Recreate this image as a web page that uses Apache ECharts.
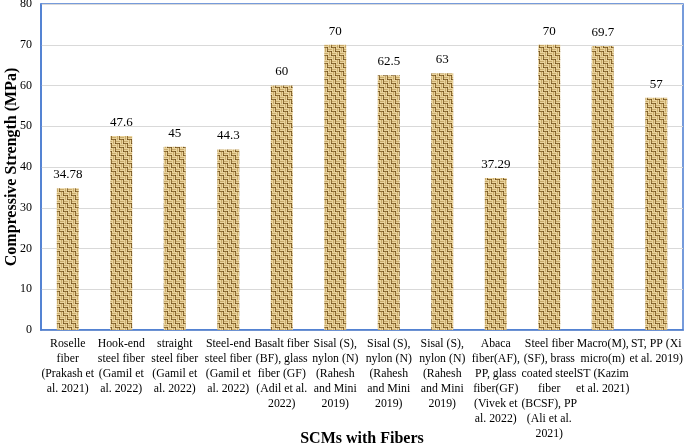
<!DOCTYPE html>
<html><head><meta charset="utf-8">
<script src="https://cdn.jsdelivr.net/npm/echarts@6/dist/echarts.min.js"></script>
<style>html,body{margin:0;padding:0;background:#fff}#c{width:685px;height:447px}</style>
</head><body><div id="c"></div>
<script>
const categories = [
  "Roselle\nfiber\n(Prakash et\nal. 2021)",
  "Hook-end\nsteel fiber\n(Gamil et\nal. 2022)",
  "straight\nsteel fiber\n(Gamil et\nal. 2022)",
  "Steel-end\nsteel fiber\n(Gamil et\nal. 2022)",
  "Basalt fiber\n(BF), glass\nfiber (GF)\n(Adil et al.\n2022)",
  "Sisal (S),\nnylon (N)\n(Rahesh\nand Mini\n2019)",
  "Sisal (S),\nnylon (N)\n(Rahesh\nand Mini\n2019)",
  "Sisal (S),\nnylon (N)\n(Rahesh\nand Mini\n2019)",
  "Abaca\nfiber(AF),\nPP, glass\nfiber(GF)\n(Vivek et\nal. 2022)",
  "Steel fiber\n(SF), brass\ncoated steel\nfiber\n(BCSF), PP\n(Ali et al.\n2021)",
  "Macro(M),\nmicro(m)\nST (Kazim\net al. 2021)",
  "ST, PP (Xi\net al. 2019)"
];
const strengths = [34.78, 47.6, 45, 44.3, 60, 70, 62.5, 63, 37.29, 70, 69.7, 57];
const yTicks = [0, 10, 20, 30, 40, 50, 60, 70, 80];

function makePattern(){
  const c = document.createElement('canvas');
  c.width = 8; c.height = 8;
  const g = c.getContext('2d');
  const light = '#ead39c', mid = '#c9ab6c', dark = '#8f6d33', deep = '#6e5020';
  function hcell(x0, y0){
    g.fillStyle = light; g.fillRect(x0, y0, 4, 1);
    g.fillStyle = mid;   g.fillRect(x0, y0+1, 4, 1);
    g.fillStyle = light; g.fillRect(x0, y0+2, 4, 1);
    g.fillStyle = dark;  g.fillRect(x0, y0+3, 4, 1);
    g.fillStyle = deep;  g.fillRect(x0+3, y0+3, 1, 1);
  }
  function vcell(x0, y0){
    g.fillStyle = light; g.fillRect(x0, y0, 1, 4);
    g.fillStyle = mid;   g.fillRect(x0+1, y0, 1, 4);
    g.fillStyle = light; g.fillRect(x0+2, y0, 1, 4);
    g.fillStyle = dark;  g.fillRect(x0+3, y0, 1, 4);
    g.fillStyle = deep;  g.fillRect(x0+3, y0+3, 1, 1);
  }
  hcell(0,0); vcell(4,0); vcell(0,4); hcell(4,4);
  return c;
}

const chart = echarts.init(document.getElementById('c'), null, {renderer:'canvas'});
const serif = '"Liberation Serif","Times New Roman",serif';
chart.setOption({
  animation: false,
  grid: {left: 41, right: 2, top: 4, bottom: 117, show: true, borderColor: '#4a7bd0', borderWidth: 1.5,
         outerBoundsMode: 'none', containLabel: false},
  xAxis: {
    type: 'category', data: categories,
    axisLine: {show: true, lineStyle: {color: '#4a7bd0', width: 1.5}},
    axisTick: {show: false},
    axisLabel: {interval: 0, color: '#000', fontFamily: serif, fontSize: 11.8, lineHeight: 15, margin: 6},
    name: 'SCMs with Fibers', nameLocation: 'middle', nameGap: 101, nameMoveOverlap: false,
    nameTextStyle: {fontFamily: serif, fontWeight: 'bold', fontSize: 16, color: '#000'}
  },
  yAxis: {
    type: 'value', min: yTicks[0], max: yTicks[yTicks.length-1], interval: 10,
    axisLine: {show: true, lineStyle: {color: '#4a7bd0', width: 1.5}},
    axisTick: {show: false},
    splitLine: {lineStyle: {color: '#d9d9d9', width: 1}},
    axisLabel: {color: '#000', fontFamily: serif, fontSize: 12, margin: 9},
    name: 'Compressive Strength (MPa)', nameLocation: 'middle', nameGap: 21, nameMoveOverlap: false,
    nameTextStyle: {fontFamily: serif, fontWeight: 'bold', fontSize: 16, color: '#000'}
  },
  series: [{
    type: 'bar', data: strengths, barWidth: 22,
    itemStyle: {color: {image: makePattern(), repeat: 'repeat'}},
    label: {show: true, position: 'top', distance: 7, color: '#000', fontFamily: serif, fontSize: 13,
      formatter: p => String(p.value)}
  }]
});
</script></body></html>
